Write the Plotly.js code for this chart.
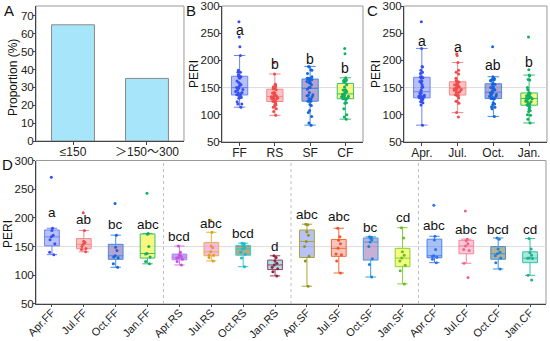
<!DOCTYPE html>
<html><head><meta charset="utf-8">
<script src="https://cdn.plot.ly/plotly-3.0.1.min.js"></script>
<style>html,body{margin:0;padding:0;background:#fff}#chart{width:550px;height:341px}</style>
</head><body><div id="chart"></div>
<script>
// ---------- DATA ----------
// Panel A
const sizeClasses = ['≤150', '＞150～300'];
const proportion = [65, 35];

// Panel D: PERI samples per season x forest type
const groupLabels = ['Apr.FF','Jul.FF','Oct.FF','Jan.FF','Apr.RS','Jul.RS','Oct.RS','Jan.RS',
                     'Apr.SF','Jul.SF','Oct.SF','Jan.SF','Apr.CF','Jul.CF','Oct.CF','Jan.CF'];
const groupLetters = ['a','ab','bc','abc','bcd','abc','bcd','d','abc','abc','bc','cd','abc','abc','bcd','cd'];

const aprFF = [136, 140, 155, 162, 167, 170, 178, 182, 271];
const julFF = [141, 145, 146.5, 150, 154, 157, 159.3, 178, 209];
const octFF = [114, 120, 130.5, 132, 134, 143, 148.7, 170, 225];
const janFF = [120, 124, 132, 137, 138, 150, 171.7, 173, 243];
const aprRS = [118, 124, 128, 130, 131, 133, 136, 140, 151];
const julRS = [125, 131, 135, 135, 141, 148, 151, 175, 196];
const octRS = [115, 130, 136.7, 140, 146, 148, 151, 155, 156];
const janRS = [99, 106, 111.3, 114, 118, 121, 125, 131, 134];
const aprSF = [81, 125, 133, 150, 159, 170, 176, 188, 189];
const julSF = [104, 125, 135.7, 137, 147, 155, 161, 167, 182];
const octSF = [97, 119, 129, 150, 158, 162, 164.5, 166.5, 167];
const janSF = [85, 108, 117.3, 125, 130, 135, 141, 165, 183];
const aprCF = [122, 128, 131.3, 133, 134, 145, 161.3, 168, 222];
const julCF = [96, 121, 143, 145, 151, 155, 160.3, 163, 212];
const octCF = [111, 122, 130, 134, 137.5, 140, 145.7, 163, 165];
const janCF = [92, 100, 129.3, 129.6, 130, 135, 139.3, 146, 164];

// Panel B (by forest type) and C (by season)
const methods = ['FF', 'RS', 'SF', 'CF'];
const methodLetters = ['a', 'b', 'b', 'b'];
const months = ['Apr.', 'Jul.', 'Oct.', 'Jan.'];
const monthLetters = ['a', 'a', 'ab', 'b'];
const refPERI = 150;

// ---------- BUILD ----------
const groupData = [aprFF, julFF, octFF, janFF, aprRS, julRS, octRS, janRS,
                   aprSF, julSF, octSF, janSF, aprCF, julCF, octCF, janCF];
const methodData = [
  [].concat(aprFF, julFF, octFF, janFF),
  [].concat(aprRS, julRS, octRS, janRS),
  [].concat(aprSF, julSF, octSF, janSF),
  [].concat(aprCF, julCF, octCF, janCF)
];
const monthData = [
  [].concat(aprFF, aprRS, aprSF, aprCF),
  [].concat(julFF, julRS, julSF, julCF),
  [].concat(octFF, octRS, octSF, octCF),
  [].concat(janFF, janRS, janSF, janCF)
];

// ---------- STYLE ----------
const FONT = 'Liberation Sans, Arial, Noto Sans CJK SC, sans-serif';
const style4 = [
  {line:'#6f82f2', fill:'rgba(95,115,240,0.45)', mk:'#3550f0'},
  {line:'#f28a8a', fill:'rgba(245,120,120,0.45)', mk:'#f04c4c'},
  {line:'#3b8ee6', fill:'rgba(125,85,170,0.55)', mk:'#1565e0'},
  {line:'#35c272', fill:'rgba(245,245,85,0.75)', mk:'#12b062'}
];
const style16 = [
  {line:'#6f82f2', fill:'rgba(95,115,240,0.45)', mk:'#3550f0'},
  {line:'#f28a8a', fill:'rgba(245,120,120,0.45)', mk:'#f04c4c'},
  {line:'#3b8ee6', fill:'rgba(125,85,170,0.55)', mk:'#1565e0'},
  {line:'#35c272', fill:'rgba(245,245,85,0.75)', mk:'#12b062'},
  {line:'#d577e6', fill:'rgba(100,120,240,0.6)', mk:'#c450e0'},
  {line:'#e8b33a', fill:'rgba(245,135,230,0.6)', mk:'#e0a020'},
  {line:'#35c8d8', fill:'rgba(125,115,45,0.6)', mk:'#20b8c8'},
  {line:'#a23a58', fill:'rgba(85,210,220,0.55)', mk:'#902445'},
  {line:'#a6a636', fill:'rgba(100,120,240,0.45)', mk:'#949420'},
  {line:'#f26a3a', fill:'rgba(245,125,110,0.45)', mk:'#f05525'},
  {line:'#3a9ee6', fill:'rgba(150,95,170,0.5)', mk:'#1585e0'},
  {line:'#86d235', fill:'rgba(240,250,85,0.75)', mk:'#62c020'},
  {line:'#4684f0', fill:'rgba(80,130,240,0.5)', mk:'#3070f0'},
  {line:'#f286a6', fill:'rgba(250,135,165,0.45)', mk:'#f06585'},
  {line:'#3a92e2', fill:'rgba(125,115,45,0.55)', mk:'#2080e0'},
  {line:'#35c2a2', fill:'rgba(85,210,190,0.5)', mk:'#20b090'}
];
const letterYB = [255, 193, 203, 186];
const letterYC = [236, 224, 191, 197];
const letterYD = [209, 198, 189, 189, 168, 191, 173, 150, 206, 202, 183, 200, 186, 180, 180, 180];

function boxTrace(cat, vals, st, xa, ya, jit, msize) {
  return {
    type: 'box', x: vals.map(() => cat), y: vals, xaxis: xa, yaxis: ya,
    boxpoints: 'all', jitter: jit, pointpos: 0,
    marker: {size: msize, color: st.mk, opacity: 1},
    line: {color: st.line, width: 1}, fillcolor: st.fill,
    whiskerwidth: 0.7, showlegend: false, hoverinfo: 'skip'
  };
}

const traces = [];
traces.push({type: 'bar', x: sizeClasses, y: proportion, xaxis: 'x', yaxis: 'y',
  marker: {color: '#a7e5fa', line: {color: '#8a8a8a', width: 1}}, showlegend: false, hoverinfo: 'skip'});
methods.forEach((m, i) => traces.push(boxTrace(m, methodData[i], style4[i], 'x2', 'y2', 0.5, 3)));
months.forEach((m, i) => traces.push(boxTrace(m, monthData[i], style4[i], 'x3', 'y3', 0.5, 3)));
groupLabels.forEach((g, i) => traces.push(boxTrace(g, groupData[i], style16[i], 'x4', 'y4', 0.5, 3)));

const annotations = [];
function pText(t, px, py, size, angle) {
  annotations.push({text: t, xref: 'paper', yref: 'paper', x: px / 550, y: 1 - py / 341, textangle: angle || 0,
    xanchor: 'center', yanchor: 'middle', showarrow: false, font: {size: size, color: '#111', family: FONT}});
}
pText('A', 9, 11, 15); pText('B', 191, 11, 15); pText('C', 372, 11, 15); pText('D', 7, 164, 15);
pText('Proportion (%)', 13, 78, 12, -90);
pText('PERI', 194, 74, 12, -90);
pText('PERI', 376, 74, 12, -90);
pText('PERI', 8, 234, 12, -90);
methods.forEach((m, i) => annotations.push({text: methodLetters[i], x: m, y: letterYB[i], xref: 'x2', yref: 'y2',
  showarrow: false, font: {size: 14, color: '#111', family: FONT}}));
months.forEach((m, i) => annotations.push({text: monthLetters[i], x: m, y: letterYC[i], xref: 'x3', yref: 'y3',
  showarrow: false, font: {size: 14, color: '#111', family: FONT}}));
groupLabels.forEach((g, i) => annotations.push({text: groupLetters[i], x: g, y: letterYD[i], xref: 'x4', yref: 'y4',
  showarrow: false, font: {size: 13.5, color: '#111', family: FONT}}));

const shapes = [];
['', '2', '3', '4'].forEach(s => shapes.push({type: 'rect', xref: 'x' + s + ' domain', yref: 'y' + s + ' domain',
  x0: 0, x1: 1, y0: 0, y1: 1, line: {color: '#999', width: 1}, layer: 'below'}));
['2', '3', '4'].forEach(s => shapes.push({type: 'line', xref: 'x' + s + ' domain', yref: 'y' + s,
  x0: 0, x1: 1, y0: refPERI, y1: refPERI, line: {color: '#dcdcdc', width: 1}, layer: 'below'}));
[3.5, 7.5, 11.5].forEach(xv => shapes.push({type: 'line', xref: 'x4', yref: 'y4 domain',
  x0: xv, x1: xv, y0: 0, y1: 1, line: {color: '#bdbdbd', width: 1, dash: 'dot'}, layer: 'below'}));

const tickFont = {size: 12, color: '#222', family: FONT};
function xax(domain, anchor, cats, extra) {
  return Object.assign({domain: domain, anchor: anchor, type: 'category', categoryorder: 'array', categoryarray: cats,
    range: [-0.5, cats.length - 0.5], showline: true, linecolor: '#444', linewidth: 1, ticks: 'outside', ticklen: 3,
    tickcolor: '#444', tickfont: tickFont, ticklabelstandoff: -3, showgrid: false, zeroline: false, fixedrange: true},
    extra || {});
}
function yax(domain, anchor, range, dtick) {
  return {domain: domain, anchor: anchor, range: range, dtick: dtick, showline: true, linecolor: '#444', linewidth: 1,
    ticks: 'outside', ticklen: 2, tickcolor: '#444', tickfont: {size: 11.5, color: '#222', family: FONT},
    ticklabelstandoff: -3, showgrid: false, zeroline: false, fixedrange: true};
}

const layout = {
  width: 550, height: 341, margin: {l: 0, r: 0, t: 0, b: 0},
  paper_bgcolor: '#fff', plot_bgcolor: '#fff', font: {family: FONT},
  bargap: 0.42, boxgap: 0.34, showlegend: false,
  xaxis: xax([0.0655, 0.3345], 'y', sizeClasses),
  yaxis: yax([0.5865, 0.9824], 'x', [0, 75.5], 10),
  xaxis2: xax([0.4036, 0.66], 'y2', methods),
  yaxis2: yax([0.5836, 0.9824], 'x2', [50, 300], 50),
  xaxis3: xax([0.7345, 0.9945], 'y3', months),
  yaxis3: yax([0.5836, 0.9824], 'x3', [50, 300], 50),
  xaxis4: xax([0.0655, 0.9927], 'y4', groupLabels, {tickangle: -45, ticklen: 2, ticklabelstandoff: -5,
    tickfont: {size: 11, color: '#222', family: FONT}}),
  yaxis4: yax([0.1085, 0.5293], 'x4', [50, 300], 50),
  annotations: annotations, shapes: shapes
};

Plotly.newPlot('chart', traces, layout, {staticPlot: true, displayModeBar: false});
</script></body></html>
